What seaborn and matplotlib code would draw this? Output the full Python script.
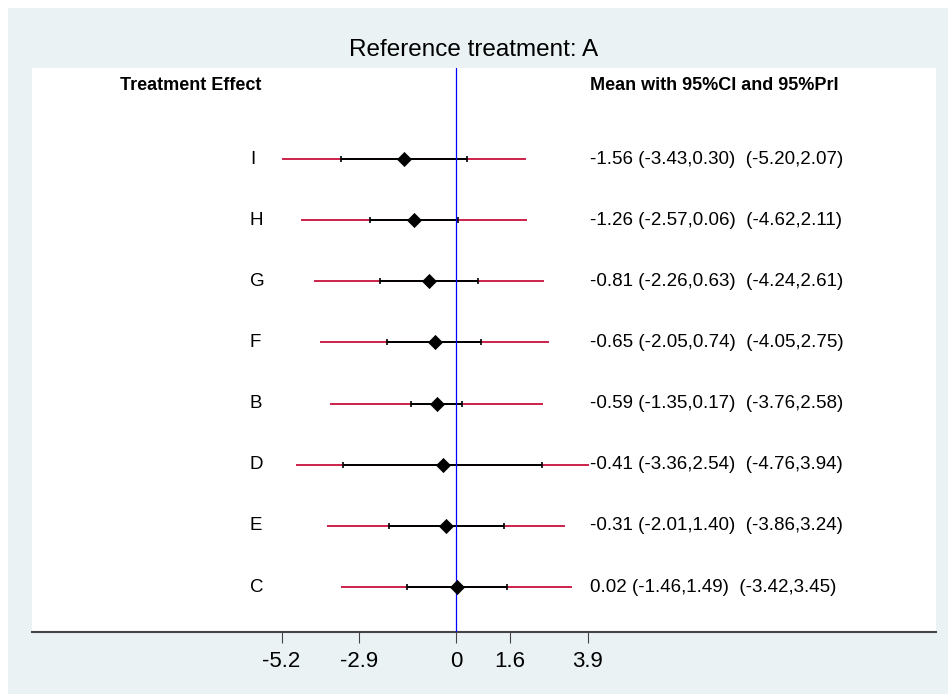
import numpy as np
import pandas as pd
import matplotlib
matplotlib.use("Agg")
import matplotlib.pyplot as plt
from matplotlib.patches import Rectangle
import seaborn as sns

# data, bottom row first
treatments = ["C", "E", "D", "B", "F", "G", "H", "I"]
mean_eff = [0.02, -0.31, -0.41, -0.59, -0.65, -0.81, -1.26, -1.56]
ci_low = [-1.46, -2.01, -3.36, -1.35, -2.05, -2.26, -2.57, -3.43]
ci_high = [1.49, 1.40, 2.54, 0.17, 0.74, 0.63, 0.06, 0.30]
pri_low = [-3.42, -3.86, -4.76, -3.76, -4.05, -4.24, -4.62, -5.20]
pri_high = [3.45, 3.24, 3.94, 2.58, 2.75, 2.61, 2.11, 2.07]
tick_vals = [-5.2, -2.9, 0, 1.6, 3.9]
tick_labels = ["-5.2", "-2.9", "0", "1.6", "3.9"]

df = pd.DataFrame({"trt": treatments, "mean": mean_eff,
                   "ci_lo": ci_low, "ci_hi": ci_high,
                   "pi_lo": pri_low, "pi_hi": pri_high})
df["pos"] = np.arange(1, len(df) + 1)

sns.set_theme(style="white")
plt.rcParams["font.family"] = ["Liberation Sans", "DejaVu Sans"]
plt.rcParams["text.color"] = "black"
plt.rcParams["xtick.labelcolor"] = "black"

bg = "#EAF2F3"
fig = plt.figure(figsize=(9.48, 6.94), dpi=100)
fig.patch.set_facecolor("white")
fig.patches.append(Rectangle((8 / 948, 0), 1, 1 - 8 / 694, transform=fig.transFigure,
                             facecolor=bg, edgecolor="none", zorder=-10))

ax = fig.add_axes([32 / 948, 62 / 694, 904 / 948, 564 / 694])
ax.set_facecolor("white")

# prediction intervals
ax.hlines(df["pos"], df["pi_lo"], df["pi_hi"], color="#C8103E", lw=1.3, zorder=2)
# confidence intervals
ax.errorbar(df["mean"], df["pos"],
            xerr=[df["mean"] - df["ci_lo"], df["ci_hi"] - df["mean"]],
            fmt="none", ecolor="black", elinewidth=1.4, capsize=2.4, capthick=1.2, zorder=3)
ax.axvline(0, color="#0000FF", lw=0.9, zorder=4)
sns.scatterplot(data=df, x="mean", y="pos", marker="D", color="black", s=52,
                edgecolor="black", linewidth=0.5, zorder=5, ax=ax, legend=False)

for _, r in df.iterrows():
    ax.text(-6.14, r["pos"], r["trt"], ha="left", va="center", fontsize=13.5)
    ax.text(3.97, r["pos"],
            f"{r['mean']:.2f} ({r['ci_lo']:.2f},{r['ci_hi']:.2f})  ({r['pi_lo']:.2f},{r['pi_hi']:.2f})",
            ha="left", va="center", fontsize=13.5)

ax.text(-7.9, 9.21, "Treatment Effect", ha="center", va="center", fontsize=13, fontweight="bold")
ax.text(3.97, 9.21, "Mean with 95%CI and 95%PrI", ha="left", va="center", fontsize=13, fontweight="bold")

ax.set_xlim(-12.62, 14.26)
ax.set_ylim(0.264, 9.49)
ax.set_xticks(tick_vals)
ax.set_xticklabels(tick_labels, fontsize=16)
ax.set_yticks([])
ax.set_xlabel("")
ax.set_ylabel("")
for side in ["top", "left", "right"]:
    ax.spines[side].set_visible(False)
ax.spines["bottom"].set_color("#454545")
ax.spines["bottom"].set_linewidth(1.5)
ax.tick_params(axis="x", bottom=True, direction="out", length=8, width=0.8,
               color="#454545", labelcolor="black", pad=6)

fig.text(0.5, 1 - 50 / 694, "Reference treatment: A", ha="center", va="center", fontsize=17.5)

fig.savefig("out.png", dpi=100, facecolor=fig.get_facecolor())
